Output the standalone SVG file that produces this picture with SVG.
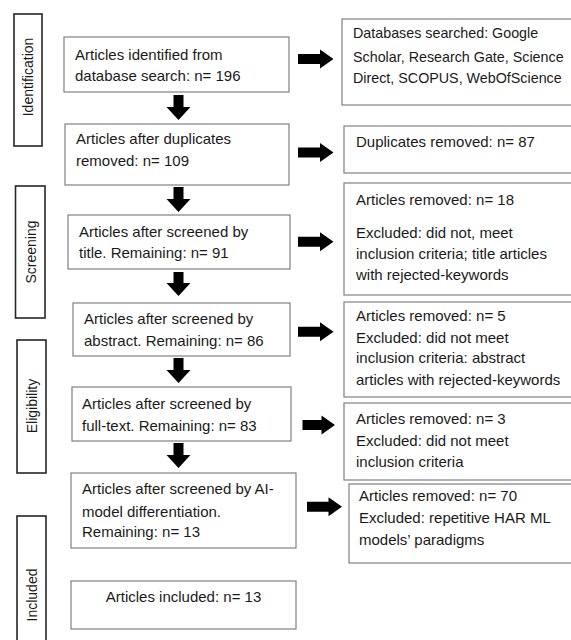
<svg xmlns="http://www.w3.org/2000/svg" width="571" height="640" viewBox="0 0 571 640">
<style>
  text { font-family: "Liberation Sans", Arial, sans-serif; font-size: 15px; fill: #1a1a1a; }
  .sm { font-size: 14.3px; }
  .box { fill: #ffffff; stroke: #808080; stroke-width: 1.2; }
  .lbl { fill: #ffffff; stroke: #262626; stroke-width: 1.6; }
  .vt { text-anchor: middle; dominant-baseline: central; font-size: 14px; }
  .arr { fill: #000000; }
</style>
<rect width="571" height="640" fill="#ffffff"/>

<g id="stage-identification"><rect class="lbl" x="14" y="14" width="28" height="132"/><text class="vt" transform="translate(28,77) rotate(-90)">Identification</text></g>
<g id="stage-screening"><rect class="lbl" x="15.5" y="186" width="29.5" height="132"/><text class="vt" transform="translate(31,252) rotate(-90)">Screening</text></g>
<g id="stage-eligibility"><rect class="lbl" x="17" y="340" width="29" height="133"/><text class="vt" transform="translate(32,406) rotate(-90)">Eligibility</text></g>
<g id="stage-included"><rect class="lbl" x="17" y="516" width="29" height="140"/><text class="vt" transform="translate(32,595) rotate(-90)">Included</text></g>

<g id="n1"><rect class="box" x="64" y="37" width="225" height="55"/><text x="75" y="60">Articles identified from</text><text x="75" y="81">database search: n= 196</text></g>
<g id="n2"><rect class="box" x="65" y="124" width="224" height="61"/><text x="76" y="144">Articles after duplicates</text><text x="76" y="166">removed: n= 109</text></g>
<g id="n3"><rect class="box" x="68" y="215" width="222" height="54"/><text x="79" y="237">Articles after screened by</text><text x="79" y="258">title. Remaining: n= 91</text></g>
<g id="n4"><rect class="box" x="73" y="303" width="217" height="53"/><text x="84" y="324">Articles after screened by</text><text x="84" y="346">abstract. Remaining: n= 86</text></g>
<g id="n5"><rect class="box" x="72" y="387" width="219" height="54"/><text x="82" y="409">Articles after screened by</text><text x="82" y="431">full-text. Remaining: n= 83</text></g>
<g id="n6"><rect class="box" x="71" y="473" width="225" height="75"/><text x="82" y="494">Articles after screened by AI-</text><text x="82" y="517">model differentiation.</text><text x="82" y="537">Remaining: n= 13</text></g>
<g id="n7"><rect class="box" x="71" y="581" width="225" height="48"/><text x="183.5" y="602" text-anchor="middle">Articles included: n= 13</text></g>

<g id="r1"><rect class="box" x="342" y="19" width="260" height="86"/><text class="sm" x="353" y="38">Databases searched: Google</text><text class="sm" x="353" y="61.5">Scholar, Research Gate, Science</text><text class="sm" x="353" y="83">Direct, SCOPUS, WebOfScience</text></g>
<g id="r2"><rect class="box" x="344" y="126" width="260" height="47"/><text x="356" y="146.5">Duplicates removed: n= 87</text></g>
<g id="r3"><rect class="box" x="344" y="183" width="260" height="112"/><text x="356" y="205">Articles removed: n= 18</text><text x="356" y="238">Excluded: did not, meet</text><text x="356" y="258.5">inclusion criteria; title articles</text><text x="356" y="279.5">with rejected-keywords</text></g>
<g id="r4"><rect class="box" x="344" y="302" width="260" height="95"/><text x="356" y="321">Articles removed: n= 5</text><text x="356" y="343">Excluded: did not meet</text><text x="356" y="363">inclusion criteria: abstract</text><text x="356" y="385">articles with rejected-keywords</text></g>
<g id="r5"><rect class="box" x="344" y="403" width="260" height="77"/><text x="356" y="424">Articles removed: n= 3</text><text x="356" y="446">Excluded: did not meet</text><text x="356" y="467">inclusion criteria</text></g>
<g id="r6"><rect class="box" x="349" y="484" width="260" height="79"/><text x="359" y="501">Articles removed: n= 70</text><text x="359" y="523">Excluded: repetitive HAR ML</text><text x="359" y="545">models’ paradigms</text></g>

<g id="connectors">
  <path class="arr" d="M173.5,95 H183.5 V107 H190.5 L178.5,120 L166.5,107 H173.5 Z"/>
  <path class="arr" d="M173.5,187 H183.5 V199 H190.5 L178.5,212 L166.5,199 H173.5 Z"/>
  <path class="arr" d="M173.5,272 H183.5 V283 H190.5 L178.5,296 L166.5,283 H173.5 Z"/>
  <path class="arr" d="M173.5,358 H183.5 V370 H190.5 L178.5,383 L166.5,370 H173.5 Z"/>
  <path class="arr" d="M173.5,443 H183.5 V455 H190.5 L178.5,468 L166.5,455 H173.5 Z"/>
  <path class="arr" d="M298,54 H320 V49.5 L333.5,59 L320,68.5 V64 H298 Z"/>
  <path class="arr" d="M298,147.5 H320 V143 L333.5,152.5 L320,162 V157.5 H298 Z"/>
  <path class="arr" d="M298,236.7 H320 V232.2 L333.5,241.7 L320,251.2 V246.7 H298 Z"/>
  <path class="arr" d="M298,326.7 H320 V322.2 L333.5,331.7 L320,341.2 V336.7 H298 Z"/>
  <path class="arr" d="M302.5,420 H321.5 V415.5 L335,425 L321.5,434.5 V430 H302.5 Z"/>
  <path class="arr" d="M307,501.7 H328.5 V497.2 L342,506.7 L328.5,516.2 V511.7 H307 Z"/>
</g>
</svg>
